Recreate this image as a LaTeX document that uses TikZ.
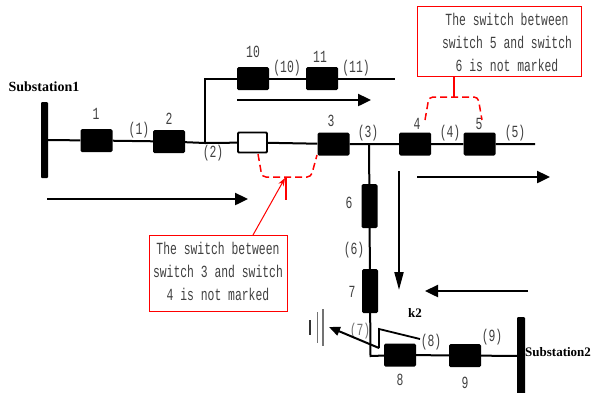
\documentclass[tikz,border=0pt]{standalone}
\usepackage{fontspec}
\setmainfont{Liberation Serif}
\newfontfamily\monof{Liberation Mono}
\usetikzlibrary{arrows.meta}
\newcommand{\lbl}[1]{{\fontsize{17}{20}\selectfont\monof\scalebox{0.67}[1]{#1}}}
\newcommand{\btxt}[3]{{\fontsize{17}{23}\selectfont\monof\scalebox{0.67}[1]{\begin{tabular}{@{}c@{}}#1\\#2\\#3\end{tabular}}}}
\begin{document}
\begin{tikzpicture}[x=1pt,y=-1pt,
  sw/.style={rectangle, fill=black, minimum width=32pt, minimum height=23pt, inner sep=0pt, rounded corners=1.5pt},
  swv/.style={sw, minimum width=16pt, minimum height=44pt},
  opensw/.style={rectangle, draw=black, line width=1.8pt, fill=white, minimum width=29pt, minimum height=20pt, inner sep=0pt, rounded corners=1pt},
  bar/.style={rectangle, fill=black, inner sep=0pt, rounded corners=1pt},
  wire/.style={line width=2pt},
  flow/.style={line width=2.4pt, -{Triangle[length=13pt,width=12pt]}},
  lab/.style={text=black!75, inner sep=0pt},
  subst/.style={inner sep=0pt, font=\fontsize{13.5}{16}\selectfont\bfseries},
  callout/.style={draw=red, line width=1pt, inner sep=0pt},
  ctext/.style={text=black!75, inner sep=0pt},
  redash/.style={red, line width=1.5pt, dash pattern=on 7pt off 4pt, rounded corners=4pt},
  gnd/.style={line width=1.5pt}
]
\useasboundingbox (0,0) rectangle (593,392);

% substations
\node[bar, minimum width=7pt, minimum height=76pt] (bar1) at (44.5,140) {};
\node[bar, minimum width=8pt, minimum height=78pt] (bar2) at (521,356) {};
\node[subst, font=\fontsize{14}{16}\selectfont\bfseries] (st1) at (44,87) {Substation1};
\node[subst, anchor=west, font=\fontsize{13}{16}\selectfont\bfseries] (st2) at (525,352) {Substation2};

% switches main line
\node[sw] (sw1) at (96.5,140.5) {};
\node[sw] (sw2) at (169,141.5) {};
\coordinate (j2) at (205,143);
\node[opensw] (op) at (252.5,142.5) {};
\node[sw] (sw3) at (333.5,144) {};
\coordinate (j3) at (369,144);
\node[sw] (sw4) at (415,144) {};
\node[sw] (sw5) at (479.5,144) {};
\coordinate (e5) at (535,144);

% branch
\coordinate (c2) at (205,78.5);
\node[sw] (sw10) at (253,78.5) {};
\node[sw] (sw11) at (322,78.5) {};
\coordinate (e11) at (395,78.5);

% vertical branch
\node[swv] (sw6) at (369.5,206) {};
\node[swv] (sw7) at (370,291) {};
\coordinate (c7) at (370.5,356);
\node[sw] (sw8) at (400,355) {};
\node[sw] (sw9) at (465,355.5) {};

\draw[wire] (bar1) -- (sw1) -- (sw2) -- (j2) -- (op) -- (sw3) -- (j3) -- (sw4) -- (sw5) -- (e5);
\draw[wire] (j2) -- (c2) -- (sw10) -- (sw11) -- (e11);
\draw[wire] (j3) -- (sw6) -- (sw7) -- (c7) -- (sw8) -- (sw9) -- (bar2);

% labels
\node[lab] (l1) at (96,114) {\lbl{1}};
\node[lab] (lp1) at (139,130) {\lbl{(1)}};
\node[lab] (l2) at (169,119) {\lbl{2}};
\node[lab] (lp2) at (213,153) {\lbl{(2)}};
\node[lab] (l10) at (253,52) {\lbl{10}};
\node[lab] (lp10) at (287,68) {\lbl{(10)}};
\node[lab] (l11) at (320,57) {\lbl{11}};
\node[lab] (lp11) at (356,68) {\lbl{(11)}};
\node[lab] (l3) at (331,121) {\lbl{3}};
\node[lab] (lp3) at (368,133) {\lbl{(3)}};
\node[lab] (l4) at (417,124) {\lbl{4}};
\node[lab] (lp4) at (450,133) {\lbl{(4)}};
\node[lab] (l5) at (479,124) {\lbl{5}};
\node[lab] (lp5) at (515,133) {\lbl{(5)}};
\node[lab] (l6) at (349,203) {\lbl{6}};
\node[lab] (lp6) at (354,250) {\lbl{(6)}};
\node[lab] (l7) at (352,292) {\lbl{7}};
\node[lab, text=black!55] (lp7) at (360,331) {\lbl{(7)}};
\node[lab] (l8) at (400,380) {\lbl{8}};
\node[lab] (lp8) at (431,342) {\lbl{(8)}};
\node[lab] (l9) at (465,383) {\lbl{9}};
\node[lab] (lp9) at (492,337) {\lbl{(9)}};
\node[inner sep=0pt, font=\fontsize{13}{15}\selectfont\bfseries] (k2) at (415,313) {k2};

% flow arrows
\coordinate (fa1) at (237,100); \coordinate (fa2) at (371,100);
\coordinate (fb1) at (47,199); \coordinate (fb2) at (248,199);
\coordinate (fc1) at (417,177); \coordinate (fc2) at (550,177);
\coordinate (fd1) at (399,171); \coordinate (fd2) at (399,290);
\coordinate (fe1) at (528,291); \coordinate (fe2) at (425,291);
\draw[flow] (fa1) -- (fa2);
\draw[flow] (fb1) -- (fb2);
\draw[flow] (fc1) -- (fc2);
\draw[line width=2pt, -{Triangle[length=18pt,width=9pt]}] (fd1) -- (fd2);
\draw[flow] (fe1) -- (fe2);

% fault
\coordinate (f1) at (420,339); \coordinate (f2) at (379,329); \coordinate (f3) at (379,348);
\coordinate (fg) at (329,327);
\draw[line width=1.8pt] (f1) -- (f2) -- (f3);
\draw[line width=2pt, -{Triangle[length=11pt,width=9pt]}] (f3) -- (fg);

% ground
\coordinate (g1a) at (310,320); \coordinate (g1b) at (310,335);
\coordinate (g2a) at (317.5,312); \coordinate (g2b) at (317.5,343);
\coordinate (g3a) at (323,309); \coordinate (g3b) at (323,346);
\draw[gnd, black!80] (g1a) -- (g1b);
\draw[gnd, black!55] (g2a) -- (g2b);
\draw[gnd, black!55] (g3a) -- (g3b);

% callout 1 (top right)
\node[callout, minimum width=164pt, minimum height=70pt] (cb1) at (499,41) {};
\node[ctext] (ct1) at (507,44) {\btxt{The switch between}{switch 5 and switch}{6 is not marked}};
\coordinate (s1a) at (454,76); \coordinate (s1b) at (454,97);
\draw[red, line width=1.5pt] (s1a) -- (s1b);
\coordinate (b1a) at (425,120); \coordinate (b1b) at (429,97);
\coordinate (b1c) at (478,97); \coordinate (b1d) at (482,120);
\draw[redash] (b1a) -- (b1b) -- (b1c) -- (b1d);

% callout 2 (bottom left)
\node[callout, minimum width=138pt, minimum height=76pt] (cb2) at (218,273) {};
\node[ctext] (ct2) at (218,273) {\btxt{The switch between}{switch 3 and switch}{4 is not marked}};
\coordinate (a2s) at (253,235); \coordinate (a2e) at (285,178);
\draw[red, line width=1pt, -{Stealth[length=8pt,width=6pt]}] (a2s) -- (a2e);
\coordinate (s2a) at (286,177); \coordinate (s2b) at (286,200);
\draw[red, line width=1.5pt] (s2a) -- (s2b);
\coordinate (b2a) at (258,154); \coordinate (b2b) at (262,177);
\coordinate (b2c) at (311,177); \coordinate (b2d) at (317,155);
\draw[redash] (b2a) -- (b2b) -- (b2c) -- (b2d);
\end{tikzpicture}
\end{document}
